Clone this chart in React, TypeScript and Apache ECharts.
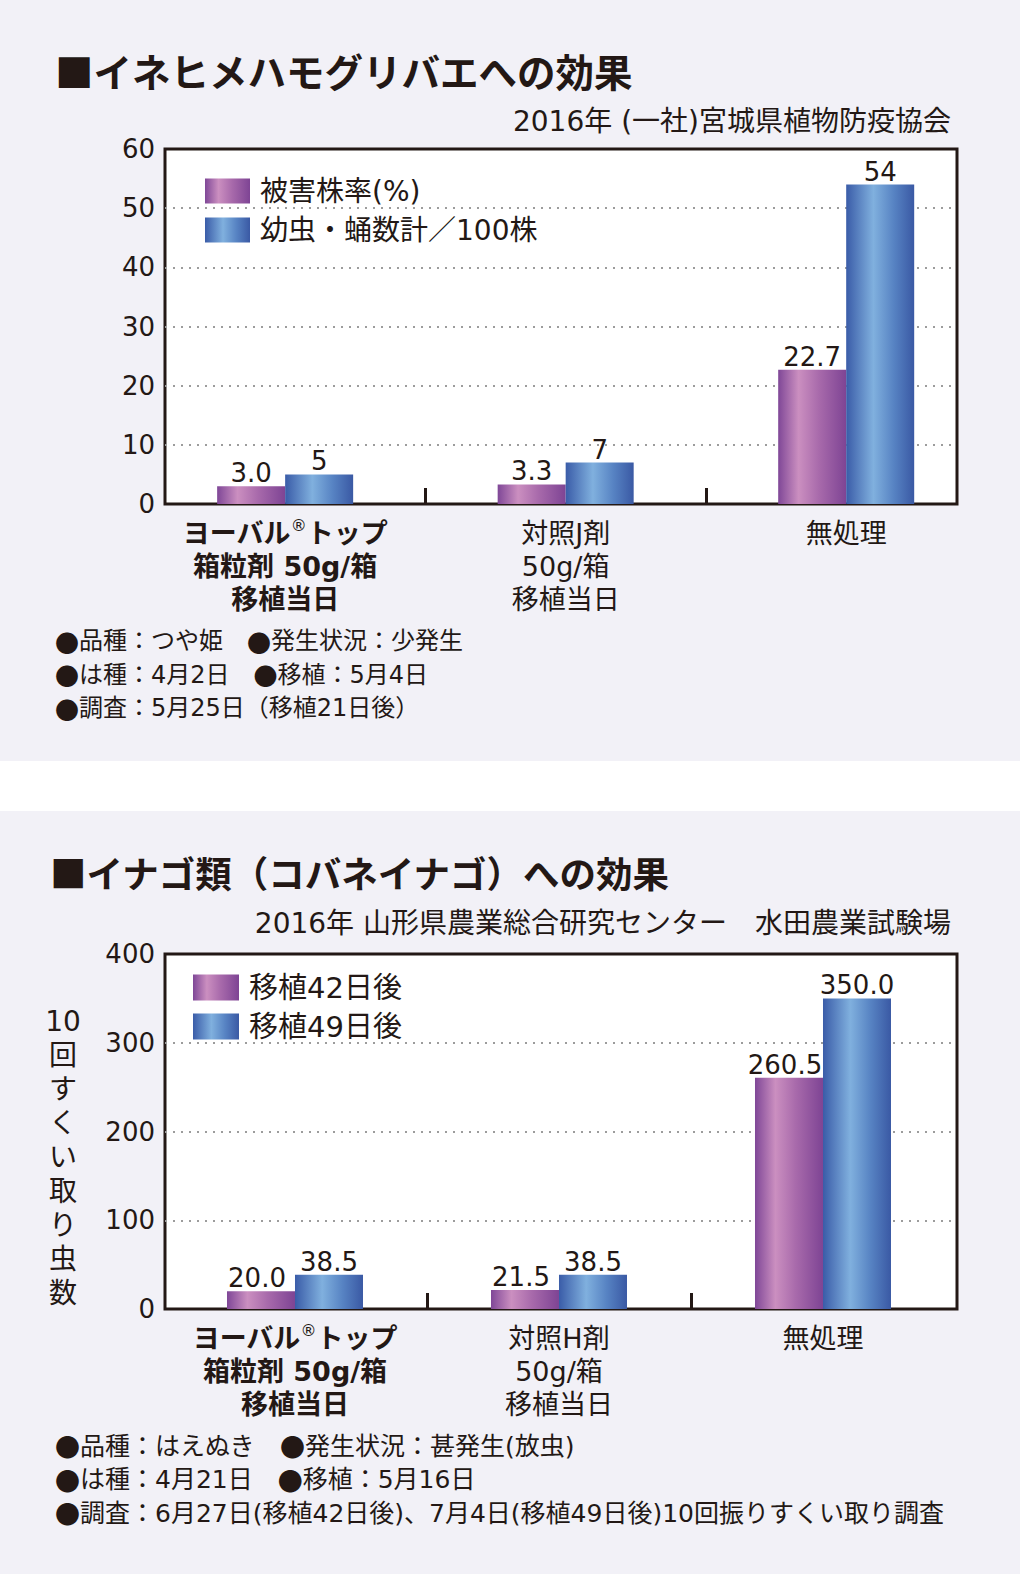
import React, { useEffect, useRef } from 'react';
import * as echarts from 'echarts';

const INK = '#231815';
const NUM_FONT = "'DejaVu Sans', 'Noto Sans CJK JP', sans-serif";
const JP_FONT = "'Noto Sans CJK JP', sans-serif";

// ---- Chart 1 ----
const title1 = '■イネヒメハモグリバエへの効果';
const source1 = '2016年 (一社)宮城県植物防疫協会';
const categories1 = ['ヨーバル®トップ\n箱粒剤 50g/箱\n移植当日', '対照J剤\n50g/箱\n移植当日', '無処理'];
const seriesNames1 = ['被害株率(%)', '幼虫・蛹数計／100株'];
const damageRate = [3.0, 3.3, 22.7];
const larvaeCount = [5, 7, 54];
const yAxis1 = { min: 0, max: 60, interval: 10 };
const notes1 = [
  '●品種：つや姫　●発生状況：少発生',
  '●は種：4月2日　●移植：5月4日',
  '●調査：5月25日（移植21日後）',
];

// ---- Chart 2 ----
const title2 = '■イナゴ類（コバネイナゴ）への効果';
const source2 = '2016年 山形県農業総合研究センター　水田農業試験場';
const categories2 = ['ヨーバル®トップ\n箱粒剤 50g/箱\n移植当日', '対照H剤\n50g/箱\n移植当日', '無処理'];
const seriesNames2 = ['移植42日後', '移植49日後'];
const day42 = [20.0, 21.5, 260.5];
const day49 = [38.5, 38.5, 350.0];
const yAxis2 = { min: 0, max: 400, interval: 100 };
const yNameLines2 = ['10', '回', 'す', 'く', 'い', '取', 'り', '虫', '数'];
const notes2 = [
  '●品種：はえぬき　●発生状況：甚発生(放虫)',
  '●は種：4月21日　●移植：5月16日',
  '●調査：6月27日(移植42日後)、7月4日(移植49日後)10回振りすくい取り調査',
];

const BOLD_INDEX = 0;

const purpleGrad = {
  type: 'linear', x: 0, y: 0, x2: 1, y2: 0,
  colorStops: [
    { offset: 0, color: '#7f4797' },
    { offset: 0.3, color: '#cb8fc0' },
    { offset: 0.6, color: '#a86aab' },
    { offset: 1, color: '#7e4494' },
  ],
};
const blueGrad = {
  type: 'linear', x: 0, y: 0, x2: 1, y2: 0,
  colorStops: [
    { offset: 0, color: '#3a5ca8' },
    { offset: 0.4, color: '#80b0de' },
    { offset: 0.7, color: '#5783c3' },
    { offset: 1, color: '#3a59a4' },
  ],
};

function catFormatter(cats: string[]) {
  return (v: number) => {
    const i = Math.round(v - 0.5);
    const c = cats[i];
    if (c === undefined) return '';
    const tag = i === BOLD_INDEX ? 'b' : 'r';
    return c
      .split('\n')
      .map((line) => `{${tag}|${line.replace('®', `}{sup|®}{${tag}|`)}}`)
      .join('\n');
  };
}

const labelRich = {
  b: { fontSize: 27, fontWeight: 'bold', fontFamily: NUM_FONT, color: INK, lineHeight: 33 },
  r: { fontSize: 27, fontFamily: NUM_FONT, color: INK, lineHeight: 33 },
  sup: { fontSize: 16, fontFamily: NUM_FONT, color: INK, verticalAlign: 'top', lineHeight: 22 },
};

function xAxisFor(gridIndex: number, min: number, max: number, cats: string[]) {
  return {
    gridIndex,
    type: 'value',
    min,
    max,
    axisLine: { show: false },
    splitLine: { show: false },
    axisTick: {
      show: true,
      inside: true,
      length: 16,
      customValues: [1, 2],
      lineStyle: { color: INK, width: 3 },
    },
    axisLabel: {
      show: true,
      customValues: [0.5, 1.5, 2.5],
      formatter: catFormatter(cats),
      margin: 13,
      rich: labelRich,
    },
  };
}

function yAxisFor(gridIndex: number, cfg: { min: number; max: number; interval: number }) {
  return {
    gridIndex,
    type: 'value',
    min: cfg.min,
    max: cfg.max,
    interval: cfg.interval,
    axisLine: { show: false },
    axisTick: { show: false },
    axisLabel: { fontSize: 26, fontFamily: NUM_FONT, color: INK, margin: 10 },
    splitLine: {
      show: true,
      showMinLine: false,
      showMaxLine: false,
      lineStyle: { color: '#9c9c9c', width: 2, type: [2, 6] },
    },
  };
}

function barSeries(
  name: string,
  values: number[],
  idx: number,
  color: any,
  fmt: (v: number) => string,
  labelOffset: number[],
) {
  return {
    type: 'bar',
    name,
    xAxisIndex: idx,
    yAxisIndex: idx,
    data: values.map((v, i) => [i + 0.5, v]),
    barWidth: 68,
    barGap: '0%',
    itemStyle: { color },
    label: {
      show: true,
      position: 'top',
      distance: 0,
      offset: labelOffset,
      fontSize: 26,
      fontFamily: NUM_FONT,
      color: INK,
      formatter: (p: any) => fmt(p.value[1]),
    },
  };
}

function noteText(text: string, x: number, y: number, size: number) {
  return {
    type: 'text',
    x,
    y,
    style: {
      text: text.replace(/●/g, '{d|●}'),
      fontSize: size,
      fontFamily: NUM_FONT,
      fill: INK,
      textVerticalAlign: 'middle',
      rich: {
        d: { fontSize: size, fontFamily: JP_FONT, color: INK },
      },
    },
  };
}

function titleText(text: string, x: number, y: number, size: number) {
  return {
    type: 'text',
    x,
    y,
    style: {
      text,
      fontSize: size,
      fontWeight: 'bold',
      fontFamily: JP_FONT,
      fill: INK,
      textVerticalAlign: 'middle',
    },
  };
}

function sourceText(text: string, x: number, y: number) {
  return {
    type: 'text',
    x,
    y,
    style: {
      text,
      fontSize: 28,
      fontFamily: NUM_FONT,
      fill: INK,
      textAlign: 'right',
      textVerticalAlign: 'middle',
    },
  };
}

export default function App() {
  const ref = useRef<HTMLDivElement>(null);

  useEffect(() => {
    document.body.style.margin = '0';
    if (!ref.current) return;
    const chart = echarts.init(ref.current, undefined, { renderer: 'svg' });

    const option: any = {
      animation: false,
      backgroundColor: 'transparent',
      grid: [
        { left: 165, top: 149, width: 792, height: 355, show: true, backgroundColor: '#ffffff', borderColor: INK, borderWidth: 3 },
        { left: 165, top: 954, width: 792, height: 355, show: true, backgroundColor: '#ffffff', borderColor: INK, borderWidth: 3 },
      ],
      xAxis: [
        xAxisFor(0, 0.0717, 2.895, categories1),
        xAxisFor(1, 0.0076, 3.0076, categories2),
      ],
      yAxis: [yAxisFor(0, yAxis1), yAxisFor(1, yAxis2)],
      legend: [
        {
          left: 205,
          top: 177,
          padding: 0,
          orient: 'vertical',
          icon: 'rect',
          itemWidth: 45,
          itemHeight: 25,
          itemGap: 11,
          selectedMode: false,
          data: seriesNames1,
          textStyle: { fontSize: 28, fontFamily: NUM_FONT, color: INK, lineHeight: 25, padding: [0, 0, 0, 5] },
        },
        {
          left: 193,
          top: 973,
          padding: 0,
          orient: 'vertical',
          icon: 'rect',
          itemWidth: 46,
          itemHeight: 26,
          itemGap: 10,
          selectedMode: false,
          data: seriesNames2,
          textStyle: { fontSize: 29, fontFamily: NUM_FONT, color: INK, lineHeight: 26, padding: [0, 0, 0, 5] },
        },
      ],
      series: [
        barSeries(seriesNames1[0], damageRate, 0, purpleGrad, (v) => v.toFixed(1), [0, 0]),
        barSeries(seriesNames1[1], larvaeCount, 0, blueGrad, (v) => String(v), [0, 0]),
        barSeries(seriesNames2[0], day42, 1, purpleGrad, (v) => v.toFixed(1), [-4, 0]),
        barSeries(seriesNames2[1], day49, 1, blueGrad, (v) => v.toFixed(1), [0, 0]),
      ],
      graphic: [
        titleText(title1, 55, 70, 38.5),
        sourceText(source1, 951, 121),
        ...notes1.map((t, i) => noteText(t, 55, 641 + i * 33.5, 24)),
        titleText(title2, 50, 872, 36.5),
        sourceText(source2, 951, 923),
        {
          type: 'text',
          x: 63,
          y: 1004,
          style: {
            text: yNameLines2.join('\n'),
            fontSize: 28,
            fontFamily: NUM_FONT,
            fill: INK,
            lineHeight: 34,
            textAlign: 'center',
            textVerticalAlign: 'top',
          },
        },
        ...notes2.map((t, i) => noteText(t, 55, 1446 + i * 33.5, 25)),
      ],
    };

    chart.setOption(option);
    return () => chart.dispose();
  }, []);

  return (
    <div
      ref={ref}
      style={{
        width: 1020,
        height: 1574,
        background: 'linear-gradient(#f2f1f7 0px, #f2f1f7 761px, #ffffff 761px, #ffffff 811px, #f2f1f7 811px, #f2f1f7 1574px)',
      }}
    />
  );
}
